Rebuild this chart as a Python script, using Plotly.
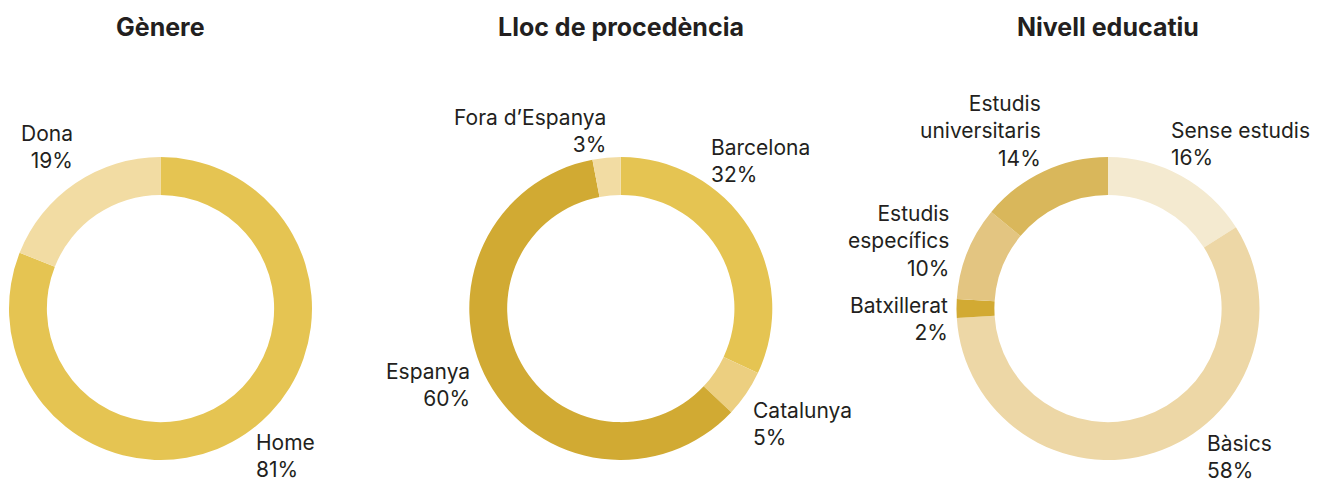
import math
import plotly.graph_objects as go

# The page body has an 8px margin: the figure is drawn from (8, 8)
OFF = 8
W, H = 1322 - OFF, 480 - OFF

titles = ["Gènere", "Lloc de procedència", "Nivell educatiu"]

genere_labels = ["Home", "Dona"]
genere_values = [81, 19]
genere_colors = ["#E5C452", "#F2DCA3"]

lloc_labels = ["Barcelona", "Catalunya", "Espanya", "Fora d’Espanya"]
lloc_values = [32, 5, 60, 3]
lloc_colors = ["#E5C452", "#ECCF80", "#D1AA33", "#F2DCA3"]

nivell_labels = ["Sense estudis", "Bàsics", "Batxillerat", "Estudis<br>específics", "Estudis<br>universitaris"]
nivell_values = [16, 58, 2, 10, 14]
nivell_colors = ["#F4EAD0", "#EDD7A6", "#D2AA33", "#E3C581", "#D9B75B"]

# label nudges in pixels (style only), per chart, in slice order
genere_nudge = [(5, -11), (3, -3)]
lloc_nudge = [(-45, -35), (0, -1), (-10, -28), (2, 8)]
nivell_nudge = [(-15, 2), (48, -30), (0, 10), (-10, 33), (2, 7)]

charts = [
    (genere_labels, genere_values, genere_colors, genere_nudge),
    (lloc_labels, lloc_values, lloc_colors, lloc_nudge),
    (nivell_labels, nivell_values, nivell_colors, nivell_nudge),
]

# layout geometry (page pixels)
centers_x = [160.5, 620.8, 1108.0]
center_y = 308.5
R = 151.5
label_r = 158.0
title_y = 27

FONT = "Inter, Open Sans, sans-serif"
TXT = "#231F20"


def px_x(x):
    return (x - OFF) / W


def px_y(y):
    return 1 - (y - OFF) / H


fig = go.Figure()
annotations = []

for i, (labels, values, colors, nudges) in enumerate(charts):
    cx = centers_x[i]
    fig.add_trace(go.Pie(
        labels=labels, values=values,
        marker=dict(colors=colors, line=dict(width=0)),
        hole=0.75, sort=False, direction="clockwise", rotation=0,
        textinfo="none", hoverinfo="label+percent", showlegend=False,
        domain=dict(x=[px_x(cx - R), px_x(cx + R)],
                    y=[px_y(center_y + R), px_y(center_y - R)]),
    ))
    annotations.append(dict(
        text="<b>%s</b>" % titles[i], x=px_x(cx), y=px_y(title_y),
        xref="paper", yref="paper", xanchor="center", yanchor="middle",
        showarrow=False, font=dict(family=FONT, size=25, color=TXT)))
    total = sum(values)
    cum = 0
    for lab, v, (nx, ny) in zip(labels, values, nudges):
        mid = (cum + v / 2) / total * 2 * math.pi
        cum += v
        s, c = math.sin(mid), math.cos(mid)
        px = cx + label_r * s + nx
        py = center_y - label_r * c + ny
        xa = "left" if s > 0 else "right"
        if c > 0.3:
            ya = "bottom"
        elif c < -0.3:
            ya = "top"
        else:
            ya = "middle"
        pct = round(v / total * 100)
        annotations.append(dict(
            text="%s<br>%d%%" % (lab, pct), x=px_x(px), y=px_y(py),
            xref="paper", yref="paper", xanchor=xa, yanchor=ya, align=xa,
            showarrow=False, font=dict(family=FONT, size=21, color=TXT)))

fig.update_layout(
    width=W, height=H,
    margin=dict(l=0, r=0, t=0, b=0),
    paper_bgcolor="white", plot_bgcolor="white",
    annotations=annotations,
)

fig.write_html("out.html")
